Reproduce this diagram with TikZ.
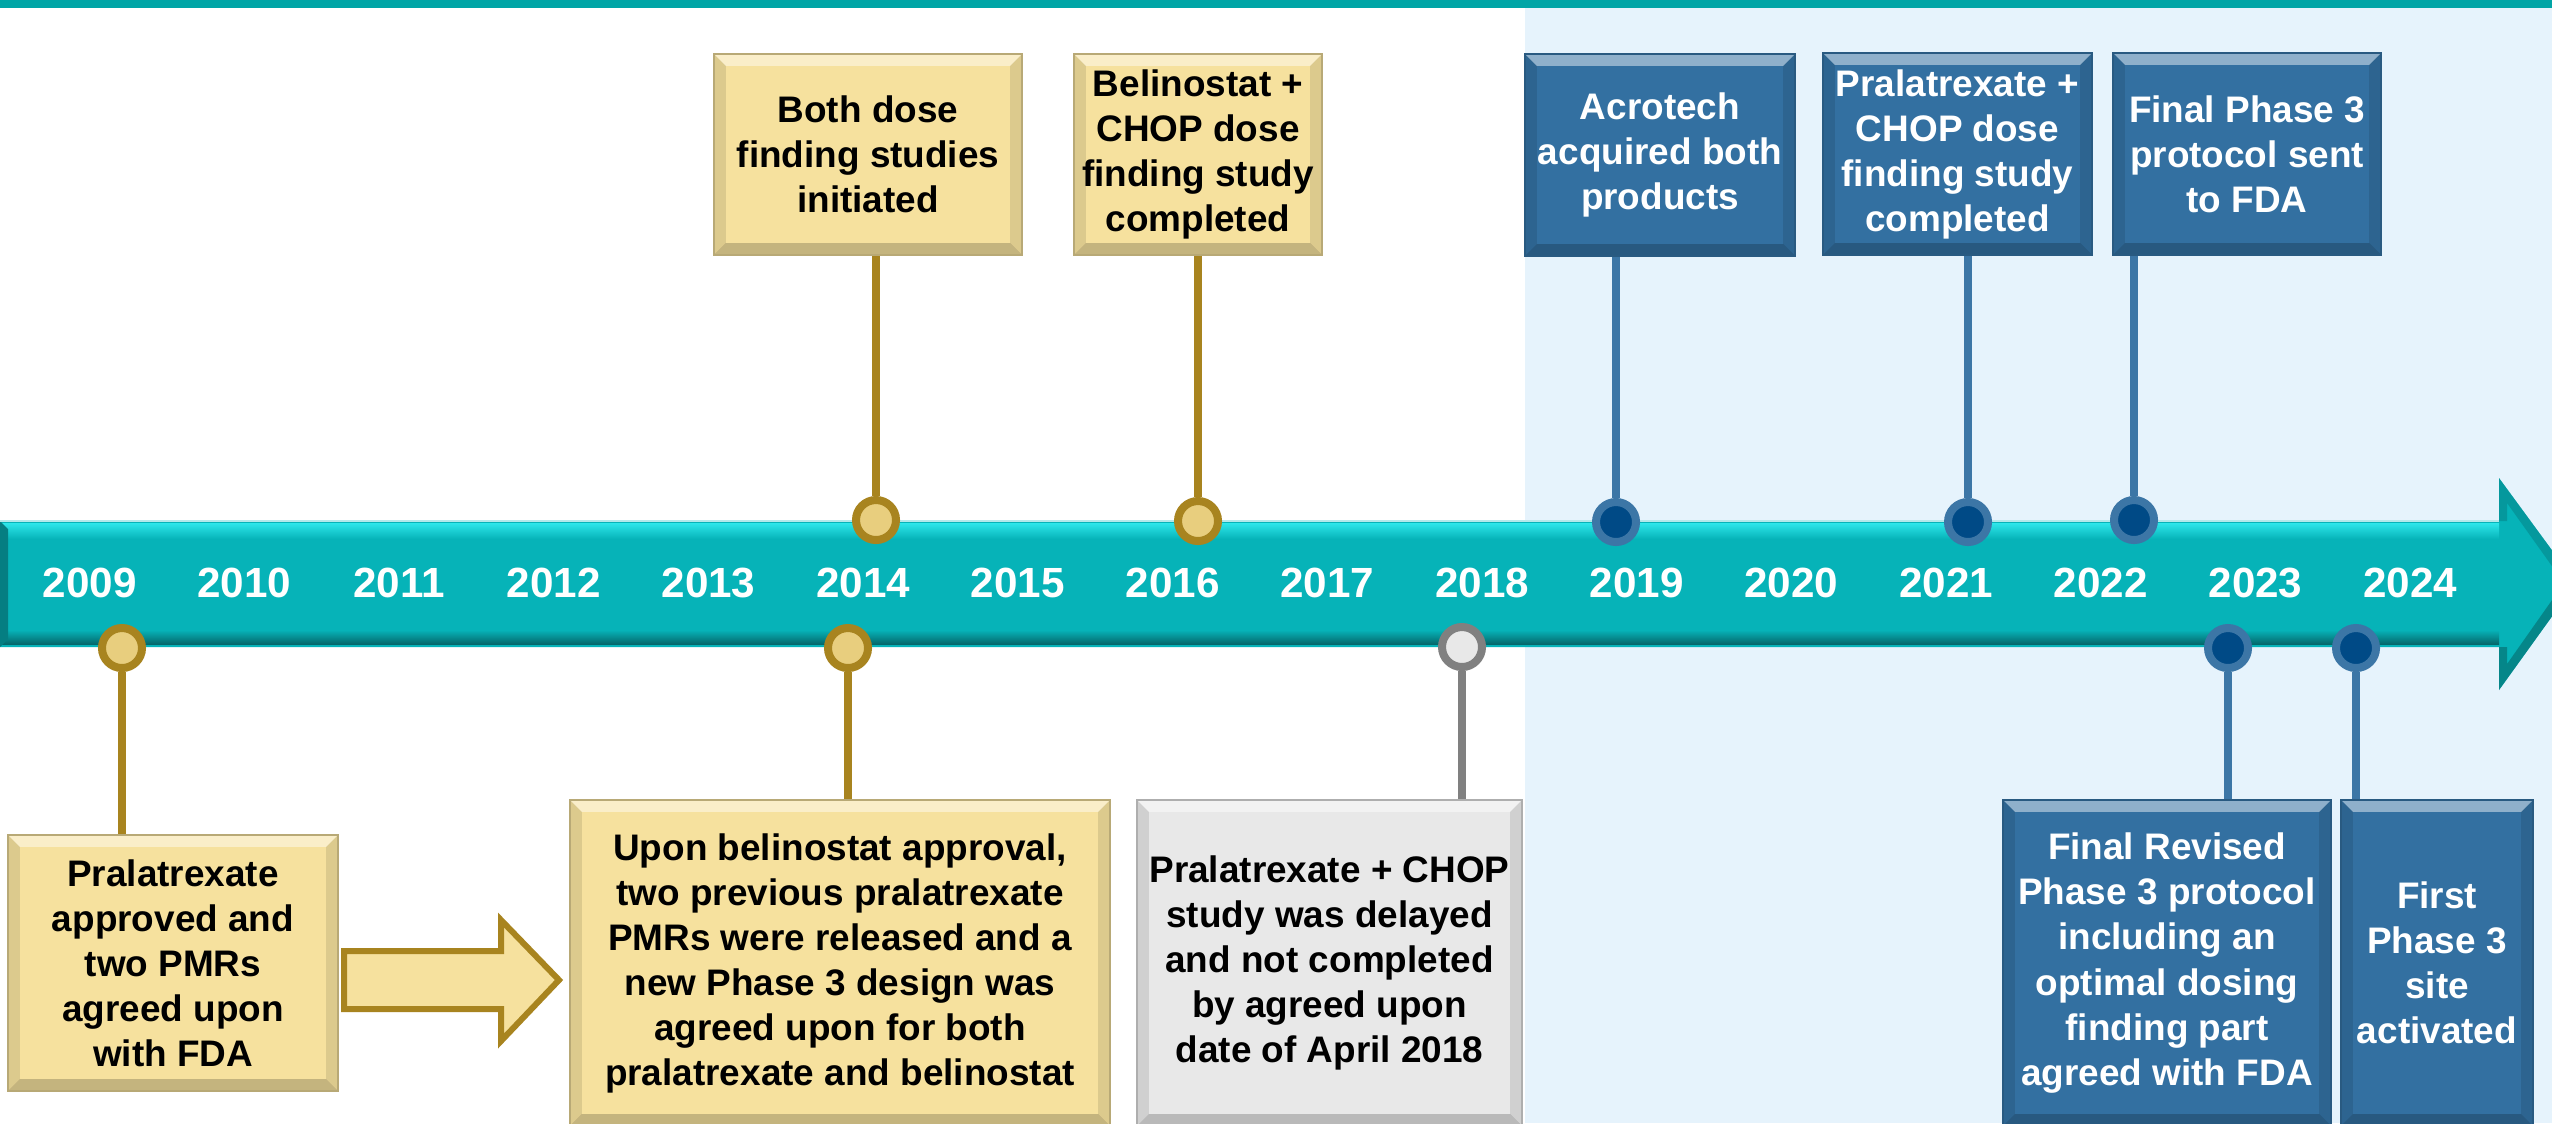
\documentclass[tikz,border=0pt]{standalone}
\usepackage{fontspec}
\setmainfont{Liberation Sans}
\usepackage{xcolor}
\usepackage{tikz}

\definecolor{tealline}{HTML}{00A5A6}
\definecolor{arrowteal}{HTML}{06B3B8}
\definecolor{arrowlight}{HTML}{2DE6EA}
\definecolor{arrowdark}{HTML}{05686B}
\definecolor{bgblue}{HTML}{E6F3FC}
\definecolor{goldfill}{HTML}{F6E19E}
\definecolor{goldline}{HTML}{A8841F}
\definecolor{golddot}{HTML}{E8CE7E}
\definecolor{bluebox}{HTML}{3370A1}
\definecolor{blueline}{HTML}{3C76A6}
\definecolor{bluedot}{HTML}{004A86}
\definecolor{grayfill}{HTML}{E8E8E8}
\definecolor{grayline}{HTML}{808080}

\tikzset{
  bevel/.style={path picture={
    \fill[white,opacity=.45] (path picture bounding box.north west) -- (path picture bounding box.north east)
      -- ([shift={(-1.2mm,-1.2mm)}]path picture bounding box.north east) -- ([shift={(1.2mm,-1.2mm)}]path picture bounding box.north west) -- cycle;
    \fill[black,opacity=.2] (path picture bounding box.south west) -- (path picture bounding box.south east)
      -- ([shift={(-1.2mm,1.2mm)}]path picture bounding box.south east) -- ([shift={(1.2mm,1.2mm)}]path picture bounding box.south west) -- cycle;
    \fill[black,opacity=.1] (path picture bounding box.north west) -- ([shift={(1.2mm,-1.2mm)}]path picture bounding box.north west)
      -- ([shift={(1.2mm,1.2mm)}]path picture bounding box.south west) -- (path picture bounding box.south west) -- cycle;
    \fill[black,opacity=.1] (path picture bounding box.north east) -- ([shift={(-1.2mm,-1.2mm)}]path picture bounding box.north east)
      -- ([shift={(-1.2mm,1.2mm)}]path picture bounding box.south east) -- (path picture bounding box.south east) -- cycle;
  }}
}

\begin{document}
\begin{tikzpicture}[x=0.01cm,y=-0.01cm,
  boxtext/.style={font=\fontsize{10.5}{12.8}\selectfont\bfseries,align=center,inner sep=0pt},
  goldbox/.style={boxtext,bevel,fill=goldfill,draw=goldfill!75!black,line width=0.4pt},
  bluebox/.style={boxtext,bevel,fill=bluebox,draw=bluebox!80!black,line width=0.4pt,text=white},
  graybox/.style={boxtext,bevel,fill=grayfill,draw=grayfill!75!black,line width=0.4pt},
  dot/.style={circle,minimum size=0.4cm,inner sep=0pt,line width=0.08cm},
  golddotn/.style={dot,draw=goldline,fill=golddot},
  bluedotn/.style={dot,draw=blueline,fill=bluedot},
  graydotn/.style={dot,draw=grayline,fill=grayfill},
  stem/.style={line width=0.077cm},
  yearlbl/.style={font=\fontsize{12}{14}\selectfont\bfseries,text=white,inner sep=0pt}]
\useasboundingbox (0,0) rectangle (2552,1123);
\clip (0,0) rectangle (2552,1123);

% background
\fill[white] (0,0) rectangle (2552,1123);
\fill[bgblue] (1525,8) rectangle (2552,1123);
\fill[tealline] (0,0) rectangle (2552,8);

% time line
\fill[arrowteal] (0,521) -- (2499,521) -- (2499,478) -- (2576,583) -- (2499,690) -- (2499,647) -- (0,647) -- cycle;
\shade[top color=arrowlight,bottom color=arrowteal] (0,523) rectangle (2499,539);
\shade[top color=arrowteal,bottom color=arrowdark] (0,630) rectangle (2499,644);
\fill[arrowdark!70!arrowteal] (0,521) -- (8,529) -- (8,639) -- (0,647) -- cycle;
\fill[arrowdark,opacity=.35] (2499,478) -- (2576,583) -- (2564,583) -- (2507,503) -- (2507,521) -- (2499,521) -- cycle;
\fill[arrowdark,opacity=.6] (2576,583) -- (2499,690) -- (2499,647) -- (2507,647) -- (2507,664) -- (2564,583) -- cycle;
\draw[white!70!arrowteal,line width=0.4pt] (0,521) -- (2499,521);

\foreach \yr [count=\i from 0] in {2009,...,2024}
  \node[yearlbl] (y\yr) at ({89.7+154.7*\i},583) {\yr};

% events above
\node[goldbox,minimum width=3.08cm,minimum height=2.01cm] (init) at (868,154.5) {Both dose\\finding studies\\initiated};
\node[goldbox,minimum width=2.48cm,minimum height=2.01cm] (belchop) at (1198,154.5) {Belinostat +\\CHOP dose\\finding study\\completed};
\node[bluebox,minimum width=2.70cm,minimum height=2.02cm] (acro) at (1660,155) {Acrotech\\acquired both\\products};
\node[bluebox,minimum width=2.69cm,minimum height=2.02cm] (pralchop) at (1957.5,154) {Pralatrexate +\\CHOP dose\\finding study\\completed};
\node[bluebox,minimum width=2.68cm,minimum height=2.02cm] (final) at (2247,154) {Final Phase 3\\protocol sent\\to FDA};

% events below
\node[goldbox,minimum width=3.30cm,minimum height=2.56cm] (approve) at (173,963) {Pralatrexate\\approved and\\two PMRs\\agreed upon\\with FDA};
\node[goldbox,minimum width=5.40cm,minimum height=3.26cm] (release) at (840,963) {Upon belinostat approval,\\two previous pralatrexate\\PMRs were released and a\\new Phase 3 design was\\agreed upon for both\\pralatrexate and belinostat};
\node[graybox,minimum width=3.85cm,minimum height=3.26cm] (delay) at (1329.5,963) {Pralatrexate + CHOP\\study was delayed\\and not completed\\by agreed upon\\date of April 2018};
\node[bluebox,minimum width=3.28cm,minimum height=3.26cm] (revised) at (2167,963) {Final Revised\\Phase 3 protocol\\including an\\optimal dosing\\finding part\\agreed with FDA};
\node[bluebox,minimum width=1.92cm,minimum height=3.26cm] (site) at (2437,963) {First\\Phase 3\\site\\activated};

\draw[goldline,line width=0.06cm,fill=goldfill] (344,951) -- (501,951) -- (501,920) -- (559,980) -- (501,1041) -- (501,1009) -- (344,1009) -- cycle;

% dots on the line
\node[golddotn] (d09) at (122,648) {};
\node[golddotn] (d14b) at (848,648) {};
\node[golddotn] (d14a) at (876,520) {};
\node[golddotn] (d16) at (1198,521) {};
\node[graydotn] (d18) at (1462,647) {};
\node[bluedotn] (d19) at (1616,522) {};
\node[bluedotn] (d21) at (1968,522) {};
\node[bluedotn] (d22) at (2134,520) {};
\node[bluedotn] (d23) at (2228,648) {};
\node[bluedotn] (d24) at (2356,648) {};

% stems
\draw[stem,goldline] (d14a) -- (d14a |- init.south);
\draw[stem,goldline] (d16) -- (d16 |- belchop.south);
\draw[stem,blueline] (d19) -- (d19 |- acro.south);
\draw[stem,blueline] (d21) -- (d21 |- pralchop.south);
\draw[stem,blueline] (d22) -- (d22 |- final.south);
\draw[stem,goldline] (d09) -- (d09 |- approve.north);
\draw[stem,goldline] (d14b) -- (d14b |- release.north);
\draw[stem,grayline] (d18) -- (d18 |- delay.north);
\draw[stem,blueline] (d23) -- (d23 |- revised.north);
\draw[stem,blueline] (d24) -- (d24 |- site.north);
\end{tikzpicture}
\end{document}
